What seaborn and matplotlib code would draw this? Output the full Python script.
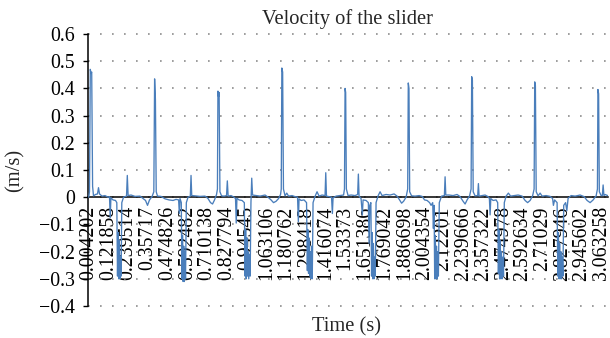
import numpy as np
import pandas as pd
import matplotlib
matplotlib.use("Agg")
import matplotlib.pyplot as plt
import seaborn as sns

# ---- data (time in s, velocity in m/s) ----
time_s = [
    0.0042, 0.0089, 0.0137, 0.0179, 0.0221, 0.0274, 0.0328, 0.0447, 0.0566, 0.0626,
    0.0686, 0.0835, 0.1014, 0.1193, 0.1282, 0.1324, 0.1366, 0.1491, 0.1640, 0.1717,
    0.1759, 0.1795, 0.1831, 0.1866, 0.1902, 0.1938, 0.1974, 0.2015, 0.2117, 0.2296,
    0.2343, 0.2391, 0.2564, 0.2803, 0.3101, 0.3280, 0.3429, 0.3548, 0.3667, 0.3816,
    0.3924,
    0.3971, 0.4019, 0.4067, 0.4144, 0.4353, 0.4592, 0.4830, 0.5069, 0.5247, 0.5402,
    0.5444, 0.5486, 0.5563, 0.5599, 0.5635, 0.5671, 0.5707, 0.5742, 0.5778, 0.5814,
    0.5862, 0.5963, 0.6100, 0.6142, 0.6184, 0.6380, 0.6679, 0.6977, 0.7156, 0.7305,
    0.7424, 0.7543, 0.7663, 0.7716,
    0.7746, 0.7782, 0.7817, 0.7865, 0.7961, 0.8110, 0.8259, 0.8306, 0.8354, 0.8527,
    0.8706, 0.8795, 0.8837, 0.8879, 0.9004, 0.9183, 0.9320, 0.9362, 0.9398, 0.9433,
    0.9469, 0.9505, 0.9541, 0.9583, 0.9624, 0.9666, 0.9714, 0.9761, 0.9809, 1.0018,
    1.0256, 1.0555, 1.0733, 1.0912, 1.1061, 1.1210, 1.1360, 1.1479, 1.1521,
    1.1556, 1.1604, 1.1652, 1.1747, 1.1848, 1.1956, 1.2165, 1.2343, 1.2492, 1.2540,
    1.2582, 1.2701, 1.2880, 1.3029, 1.3077, 1.3113, 1.3148, 1.3184, 1.3220, 1.3256,
    1.3292, 1.3327, 1.3369, 1.3417, 1.3536, 1.3655, 1.3775, 1.3953, 1.4132, 1.4174,
    1.4216, 1.4371, 1.4520, 1.4568, 1.4609, 1.4788, 1.5027, 1.5236, 1.5289,
    1.5325, 1.5361, 1.5403, 1.5504, 1.5683, 1.5921, 1.6076, 1.6118, 1.6160, 1.6279,
    1.6356, 1.6398, 1.6577, 1.6714, 1.6756, 1.6798, 1.6863, 1.6905, 1.6941, 1.6977,
    1.7012, 1.7048, 1.7084, 1.7126, 1.7173, 1.7293, 1.7412, 1.7531, 1.7770, 1.8008,
    1.8247, 1.8426, 1.8575, 1.8694, 1.8813, 1.8962, 1.9058,
    1.9094, 1.9135, 1.9177, 1.9290, 1.9499, 1.9738, 1.9916, 2.0066, 2.0215, 2.0364,
    2.0453, 2.0549, 2.0591, 2.0632, 2.0668, 2.0704, 2.0739, 2.0775, 2.0811, 2.0847,
    2.0889, 2.0942, 2.1079, 2.1246, 2.1288, 2.1330, 2.1526, 2.1765, 2.2003, 2.2182,
    2.2361, 2.2481, 2.2600, 2.2749, 2.2838,
    2.2874, 2.2916, 2.2964, 2.3077, 2.3232, 2.3274, 2.3315, 2.3494, 2.3673, 2.3852,
    2.3930, 2.3971, 2.4013, 2.4150, 2.4329, 2.4424, 2.4466, 2.4502, 2.4538, 2.4574,
    2.4609, 2.4645, 2.4687, 2.4729, 2.4771, 2.4818, 2.4925, 2.5062, 2.5194, 2.5402,
    2.5641, 2.5879, 2.6058, 2.6207, 2.6356, 2.6505, 2.6595,
    2.6631, 2.6672, 2.6720, 2.6834, 2.6953, 2.7072, 2.7311, 2.7549, 2.7698, 2.7746,
    2.7817, 2.7966, 2.8008, 2.8044, 2.8080, 2.8115, 2.8151, 2.8187, 2.8229, 2.8271,
    2.8312, 2.8360, 2.8473, 2.8545, 2.8622, 2.8801, 2.9040, 2.9338, 2.9576, 2.9755,
    2.9934, 3.0113, 3.0292, 3.0370,
    3.0399, 3.0441, 3.0483, 3.0590, 3.0662, 3.0709, 3.0757, 3.0829, 3.0978,
]

velocity_ms = [
    0.000, 0.020, 0.470, 0.455, 0.460, 0.040, 0.005, 0.010, 0.012, 0.035,
    0.012, 0.004, 0.006, 0.000, 0.002, -0.075, -0.002, -0.010, -0.012, -0.020,
    -0.290, -0.130, -0.300, -0.160, -0.300, -0.220, -0.290, -0.020, 0.000, 0.004,
    0.080, 0.006, 0.008, 0.003, 0.004, -0.005, -0.012, -0.030, -0.010, 0.002,
    0.020,
    0.435, 0.360, 0.020, 0.004, 0.003, -0.006, -0.010, -0.012, -0.008, -0.010,
    -0.060, -0.005, -0.020, -0.300, -0.140, -0.310, -0.180, -0.310, -0.200, -0.300,
    -0.020, 0.000, 0.004, 0.080, 0.006, 0.005, 0.003, 0.004, -0.005, -0.020,
    -0.025, -0.010, 0.010, 0.030,
    0.390, 0.370, 0.385, 0.020, 0.005, 0.004, 0.006, 0.060, 0.004, 0.006,
    0.000, -0.005, -0.095, -0.004, -0.010, -0.012, -0.020, -0.290, -0.120, -0.300,
    -0.150, -0.290, -0.200, -0.300, -0.210, -0.290, -0.020, 0.070, 0.008, 0.006,
    0.004, 0.008, 0.000, -0.010, -0.020, -0.015, -0.005, 0.010, 0.030,
    0.475, 0.460, 0.030, 0.005, 0.015, 0.004, 0.006, 0.002, 0.000, -0.090,
    -0.006, -0.012, -0.010, -0.020, -0.270, -0.120, -0.280, -0.150, -0.290, -0.200,
    -0.300, -0.180, -0.300, -0.020, 0.003, 0.020, 0.004, 0.008, 0.006, 0.090,
    0.004, 0.002, 0.000, -0.060, -0.003, 0.004, 0.006, 0.008, 0.030,
    0.400, 0.385, 0.030, 0.006, 0.008, 0.006, 0.010, 0.085, 0.004, -0.005,
    -0.065, -0.010, -0.012, -0.020, -0.170, -0.030, -0.020, -0.290, -0.130, -0.300,
    -0.170, -0.300, -0.220, -0.290, -0.020, 0.005, 0.020, 0.006, 0.010, 0.008,
    0.012, 0.004, -0.010, -0.022, -0.015, 0.000, 0.030,
    0.420, 0.400, 0.020, 0.005, 0.004, 0.006, 0.003, -0.010, -0.012, -0.020,
    -0.030, -0.020, -0.115, -0.030, -0.300, -0.140, -0.300, -0.180, -0.300, -0.200,
    -0.290, -0.020, 0.004, 0.006, 0.075, 0.008, 0.008, 0.006, 0.010, 0.002,
    -0.015, -0.025, -0.010, 0.005, 0.030,
    0.443, 0.430, 0.020, 0.005, 0.006, 0.050, 0.004, 0.006, 0.008, 0.002,
    -0.005, -0.065, -0.005, -0.012, -0.010, -0.020, -0.280, -0.120, -0.300, -0.160,
    -0.300, -0.200, -0.300, -0.220, -0.290, -0.020, 0.004, 0.015, 0.004, 0.006,
    0.008, 0.004, -0.012, -0.020, -0.012, 0.005, 0.030,
    0.424, 0.410, 0.020, 0.005, 0.015, 0.004, 0.006, 0.003, -0.005, -0.030,
    -0.010, -0.020, -0.290, -0.130, -0.300, -0.170, -0.300, -0.200, -0.300, -0.220,
    -0.290, -0.030, -0.020, -0.050, -0.004, 0.006, 0.004, 0.008, 0.002, -0.012,
    -0.020, -0.010, 0.005, 0.030,
    0.396, 0.380, 0.020, 0.006, 0.006, 0.045, 0.006, 0.010, 0.006,
]

xtick_labels = [
    "0.004202", "0.121858", "0.239514", "0.35717", "0.474826", "0.592482",
    "0.710138", "0.827794", "0.94545", "1.063106", "1.180762", "1.298418",
    "1.416074", "1.53373", "1.651386", "1.769042", "1.886698", "2.004354",
    "2.12201", "2.239666", "2.357322", "2.474978", "2.592634", "2.71029",
    "2.827946", "2.945602", "3.063258",
]
ytick_values = [-0.4, -0.3, -0.2, -0.1, 0.0, 0.1, 0.2, 0.3, 0.4, 0.5, 0.6]
ytick_labels = ["\u22120.4", "\u22120.3", "\u22120.2", "\u22120.1", "0",
                "0.1", "0.2", "0.3", "0.4", "0.5", "0.6"]

title = "Velocity of the slider"
x_title = "Time (s)"
y_title = "(m/s)"

# ---- style ----
sns.set_style("white")
plt.rcParams["font.family"] = ["Liberation Serif", "DejaVu Serif"]
plt.rcParams["axes.unicode_minus"] = True

W, H = 610, 338
fig = plt.figure(figsize=(W / 100, H / 100), dpi=100)
ax = fig.add_axes([88 / W, 32 / H, 520 / W, 272 / H])

df = pd.DataFrame({"time": time_s, "velocity": velocity_ms})
sns.lineplot(data=df, x="time", y="velocity", ax=ax, color="#4a7ebb",
             linewidth=0.95, estimator=None, sort=False, zorder=3)

ax.set_xlim(0.0, 3.10)
ax.set_ylim(-0.4, 0.6)

ax.set_yticks(ytick_values)
ax.set_yticklabels(ytick_labels)
xt = [float(s) for s in xtick_labels]
ax.set_xticks(xt)
ax.set_xticklabels(xtick_labels)

ax.tick_params(axis="y", direction="out", length=3.6, width=1.0, pad=6.0,
               labelsize=14.3, colors="black", left=True)
ax.tick_params(axis="x", length=0, pad=6.5, labelsize=14.3, colors="black",
               bottom=True, labelrotation=90)
for lab in ax.get_xticklabels():
    lab.set_ha("center")
    lab.set_va("top")

for side in ("top", "right"):
    ax.spines[side].set_visible(False)
ax.spines["left"].set_color("black")
ax.spines["left"].set_linewidth(1.1)
ax.spines["bottom"].set_position(("data", 0))
ax.spines["bottom"].set_color("black")
ax.spines["bottom"].set_linewidth(1.1)
ax.spines["bottom"].set_zorder(2.6)

ax.yaxis.grid(True, color="#8c8c8c", linestyle=(0, (1, 6.2)), linewidth=1.2)
ax.xaxis.grid(False)
ax.set_axisbelow(True)
for gl in ax.get_ygridlines():
    gl.set_clip_on(False)

ax.set_title(title, fontsize=14.8, y=(306 - 24) / 272, pad=0, va="baseline")
ax.set_xlabel(x_title, fontsize=14.8)
ax.xaxis.set_label_coords((347 - 88) / 520, (306 - 331) / 272)
ax.xaxis.label.set_va("baseline")
ax.set_ylabel(y_title, fontsize=14.8)
ax.yaxis.set_label_coords((15 - 88) / 520, 0.5)
ax.yaxis.label.set_va("center")
ax.yaxis.label.set_ha("center")

fig.savefig("out.png", dpi=100)
